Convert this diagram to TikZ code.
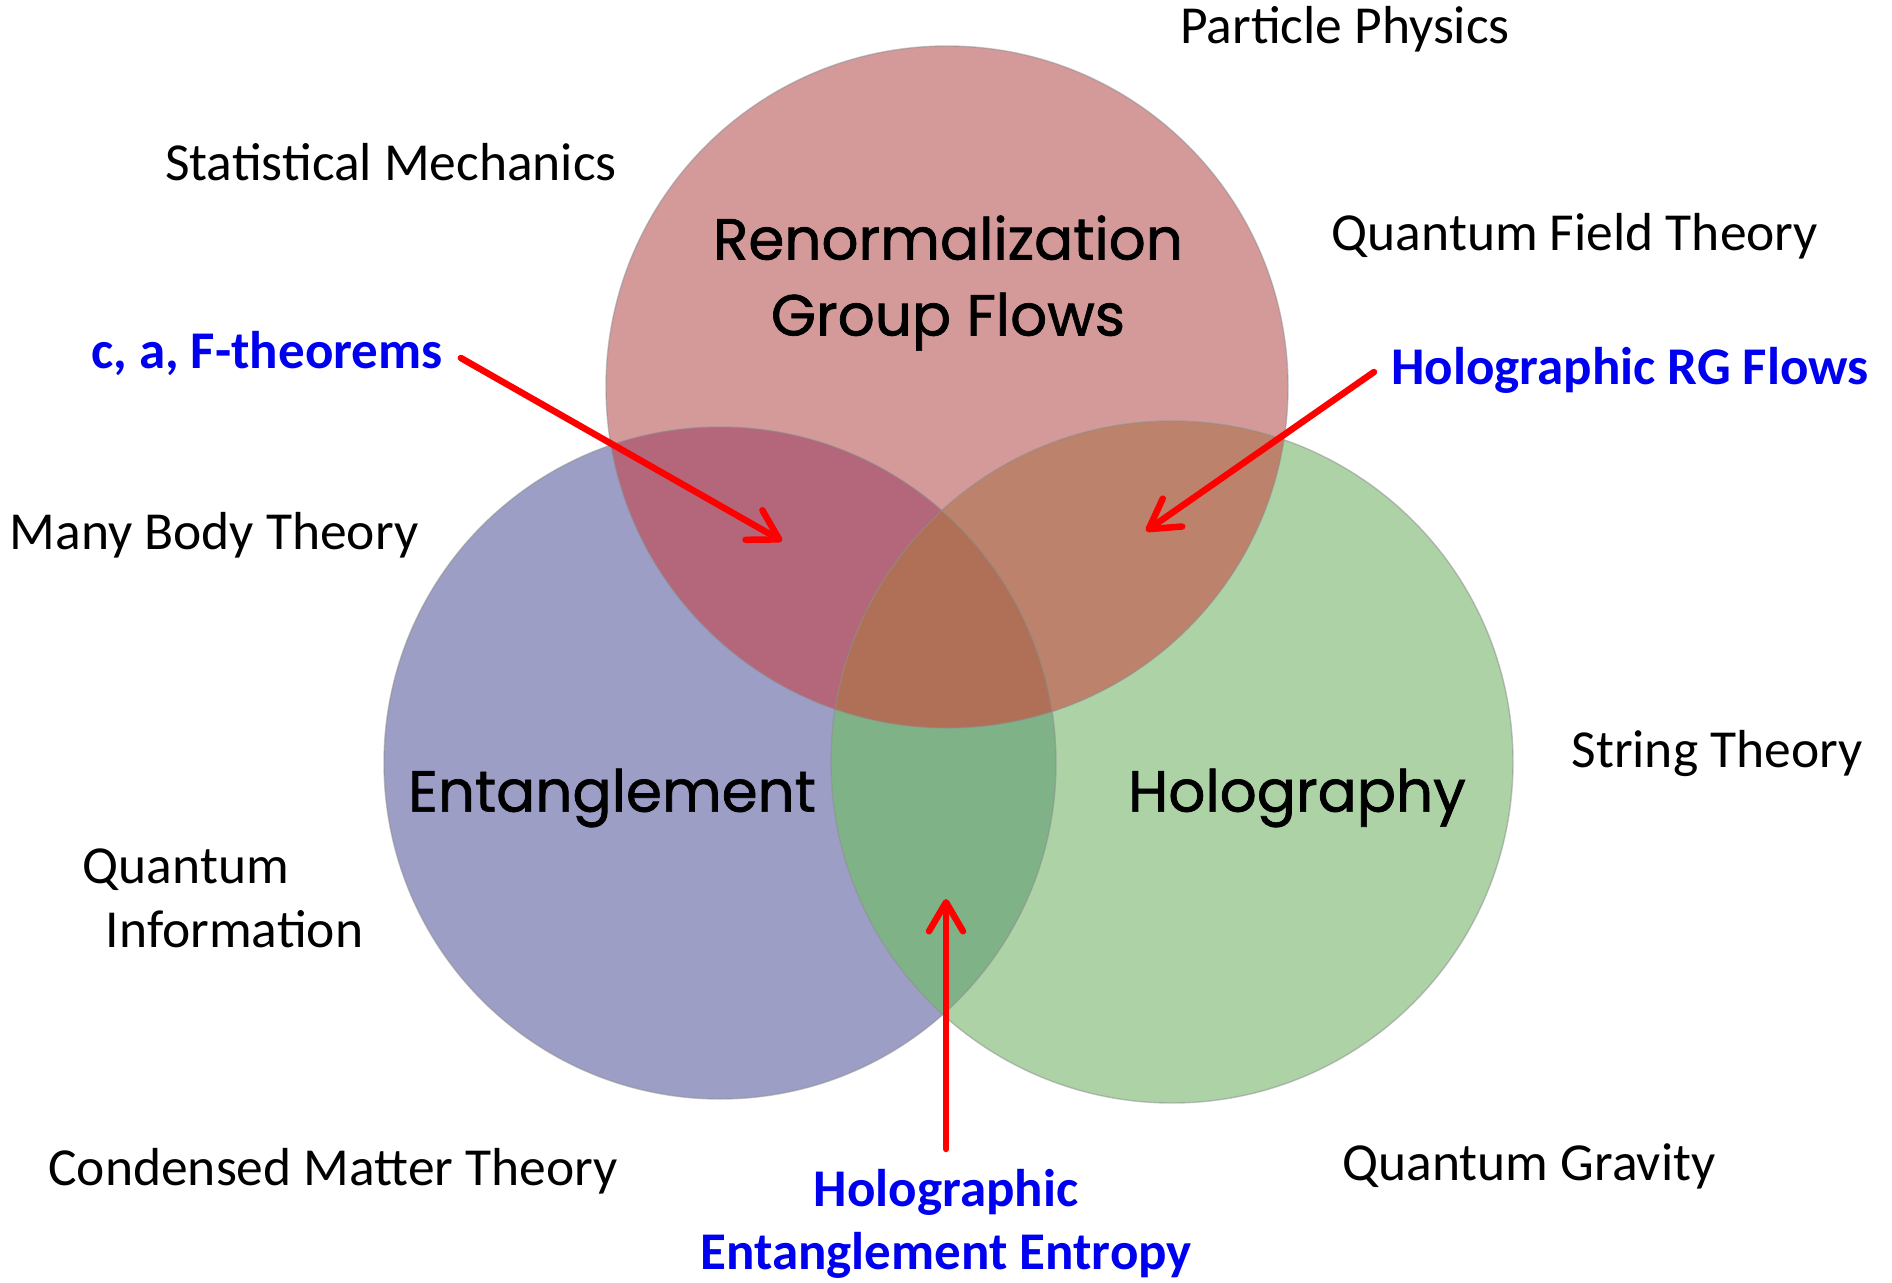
\documentclass[tikz,border=0pt]{standalone}
\usepackage{fontspec}
\setmainfont{Carlito}
\newfontfamily\comicfont[FakeBold=1.2]{Poppins}
\usetikzlibrary{arrows.meta}
\definecolor{redc}{RGB}{212,154,154}
\definecolor{bluec}{RGB}{156,158,198}
\definecolor{greenc}{RGB}{172,210,166}
\definecolor{rbc}{RGB}{180,102,122}
\definecolor{rgc}{RGB}{188,130,108}
\definecolor{bgc}{RGB}{128,178,136}
\definecolor{rbgc}{RGB}{176,112,88}
\definecolor{labblue}{RGB}{0,0,240}
\definecolor{arrred}{RGB}{255,0,0}
\tikzset{
  field/.style={font=\fontsize{53.5}{64}\selectfont, text=black, inner sep=0pt},
  result/.style={font=\fontsize{53}{63}\selectfont\bfseries, text=labblue, inner sep=0pt},
  topic/.style={font=\comicfont\fontsize{58}{76}\selectfont, text=black, inner sep=0pt, align=center},
  rim/.style={draw=black!45, draw opacity=0.5, line width=1.4pt},
  pointer/.style={draw=arrred, line width=6.5pt, line cap=round,
    -{Straight Barb[length=29pt,width=34pt,line cap=round,line join=round]}}
}
\begin{document}
\begin{tikzpicture}[x=1pt,y=-1pt]
\useasboundingbox[fill=white] (0,0) rectangle (1892,1282);
% circles
\coordinate (cr) at (947,387);
\coordinate (cb) at (720,763);
\coordinate (cg) at (1172,762);
\def\rr{341}\def\rb{336}\def\rg{341}
\fill[redc] (cr) circle (\rr);
\fill[bluec] (cb) circle (\rb);
\fill[greenc] (cg) circle (\rg);
\begin{scope}
  \clip (cr) circle (\rr);
  \fill[rbc] (cb) circle (\rb);
  \fill[rgc] (cg) circle (\rg);
\end{scope}
\begin{scope}
  \clip (cb) circle (\rb);
  \fill[bgc] (cg) circle (\rg);
  \clip (cg) circle (\rg);
  \fill[rbgc] (cr) circle (\rr);
\end{scope}
\draw[rim] (cb) circle (\rb);
\draw[rim] (cg) circle (\rg);
\draw[rim] (cr) circle (\rr);
% circle labels
\node[topic] (rg) at (948,283) {Renormalization\\Group Flows};
\node[topic] (ent) at (612,798) {Entanglement};
\node[topic] (holo) at (1297,798) {Holography};
% field labels
\node[field] (pp) at (1345,29) {Particle Physics};
\node[field] (sm) at (391,162) {Statistical Mechanics};
\node[field] (qft) at (1575,236) {Quantum Field Theory};
\node[field] (mbt) at (214,535) {Many Body Theory};
\node[field] (st) at (1717,754) {String Theory};
\node[field, align=left] (qi) at (223,898) {Quantum\\\hspace*{23pt}Information};
\node[field] (cmt) at (333,1171) {Condensed Matter Theory};
\node[field] (qg) at (1529,1166) {Quantum Gravity};
% result labels
\node[result] (caf) at (267,353) {c, a, F-theorems};
\node[result] (hrg) at (1630,370) {Holographic RG Flows};
\node[result, align=center] (hee) at (946,1224) {Holographic\\Entanglement Entropy};
% arrows
\coordinate (t1) at (782,541);
\coordinate (t2) at (1146,531);
\coordinate (t3) at (946,899);
\draw[pointer] ([xshift=18pt,yshift=-5pt]caf.east) -- (t1);
\draw[pointer] ([xshift=-17pt,yshift=-2pt]hrg.west) -- (t2);
\draw[pointer] (hee.north |- 0,1149) -- (t3);
\end{tikzpicture}
\end{document}
